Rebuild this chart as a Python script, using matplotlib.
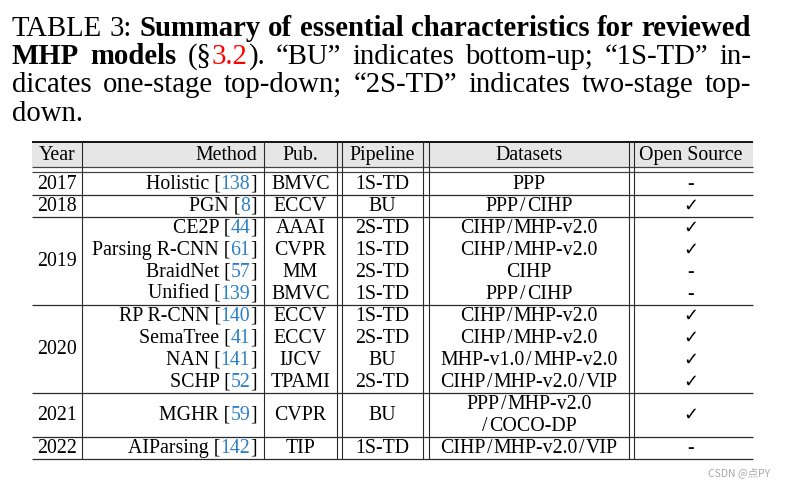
import matplotlib
matplotlib.use('Agg')
import matplotlib.pyplot as plt

# ---------------- data ----------------
caption_lines = [
    [[("TABLE", 'normal', 'k')], [("3:", 'normal', 'k')],
     [("Summary", 'bold', 'k')], [("of", 'bold', 'k')], [("essential", 'bold', 'k')],
     [("characteristics", 'bold', 'k')], [("for", 'bold', 'k')], [("reviewed", 'bold', 'k')]],
    [[("MHP", 'bold', 'k')], [("models", 'bold', 'k')],
     [("(§", 'normal', 'k'), ("3.2", 'normal', 'r'), (").", 'normal', 'k')],
     [("\u201cBU\u201d", 'normal', 'k')], [("indicates", 'normal', 'k')],
     [("bottom-up;", 'normal', 'k')], [("\u201c1S-TD\u201d", 'normal', 'k')], [("in-", 'normal', 'k')]],
    [[("dicates", 'normal', 'k')], [("one-stage", 'normal', 'k')], [("top-down;", 'normal', 'k')],
     [("\u201c2S-TD\u201d", 'normal', 'k')], [("indicates", 'normal', 'k')],
     [("two-stage", 'normal', 'k')], [("top-", 'normal', 'k')]],
    [[("down.", 'normal', 'k')]],
]

headers = ["Year", "Method", "Pub.", "Pipeline", "Datasets", "Open Source"]
years = ['2017', '2018', '2019', '2019', '2019', '2019', '2020', '2020', '2020', '2020', '2021', '2022']
methods = ['Holistic', 'PGN', 'CE2P', 'Parsing R-CNN', 'BraidNet', 'Unified',
           'RP R-CNN', 'SemaTree', 'NAN', 'SCHP', 'MGHR', 'AIParsing']
refs = ['138', '8', '44', '61', '57', '139', '140', '41', '141', '52', '59', '142']
pubs = ['BMVC', 'ECCV', 'AAAI', 'CVPR', 'MM', 'BMVC', 'ECCV', 'ECCV', 'IJCV', 'TPAMI', 'CVPR', 'TIP']
pipelines = ['1S-TD', 'BU', '2S-TD', '1S-TD', '2S-TD', '1S-TD',
             '1S-TD', '2S-TD', 'BU', '2S-TD', 'BU', '1S-TD']
datasets = ['PPP', 'PPP/CIHP', 'CIHP/MHP-v2.0', 'CIHP/MHP-v2.0', 'CIHP', 'PPP/CIHP',
            'CIHP/MHP-v2.0', 'CIHP/MHP-v2.0', 'MHP-v1.0/MHP-v2.0', 'CIHP/MHP-v2.0/VIP',
            'PPP/MHP-v2.0\n/COCO-DP', 'CIHP/MHP-v2.0/VIP']
open_source = [False, True, True, True, False, False, True, True, True, True, True, False]
watermark = "CSDN @点PY"

# ---------------- style / layout ----------------
W, H = 786, 486
SERIF = ['Liberation Serif', 'DejaVu Serif']
COL = {'k': 'black', 'r': '#ff0000', 'b': '#2b80c8'}
GRID = '#2a2a2a'

fig = plt.figure(figsize=(W / 100, H / 100), dpi=100)
ax = fig.add_axes([0, 0, 1, 1])
ax.set_xlim(0, W)
ax.set_ylim(H, 0)
ax.axis('off')
renderer = fig.canvas.get_renderer()


def twidth(s, size, weight='normal', family=SERIF):
    t = ax.text(0, 0, s, fontsize=size, fontweight=weight, family=family)
    w = t.get_window_extent(renderer).width
    t.remove()
    return w


def space_width(size, weight='normal'):
    return twidth("x x", size, weight) - twidth("xx", size, weight)


def word_width(word, size):
    return sum(twidth(s, size, wt) for s, wt, c in word)


def draw_word(x, y, word, size):
    for s, wt, c in word:
        ax.text(x, y, s, fontsize=size, fontweight=wt, color=COL[c], family=SERIF,
                ha='left', va='baseline')
        x += twidth(s, size, wt)
    return x


def draw_slashed(cx, y, s, size, gap=1.4):
    parts = s.split('/')
    ws = [twidth(p, size) if p else 0 for p in parts]
    sw = twidth('/', size)
    total = sum(ws) + (len(parts) - 1) * (sw + 2 * gap)
    x = cx - total / 2
    for k, p in enumerate(parts):
        if k > 0:
            x += gap
            ax.text(x, y, '/', fontsize=size, family=SERIF, ha='left', va='baseline')
            x += sw + gap
        if p:
            ax.text(x, y, p, fontsize=size, family=SERIF, ha='left', va='baseline')
        x += ws[k]


# ---------------- caption (justified) ----------------
cap_left, cap_right = 12, 751
cap_base = [35.5, 64, 92, 120.5]
s0 = 20.0
nat = sum(word_width(w, s0) for w in caption_lines[0]) + (len(caption_lines[0]) - 1) * space_width(s0)
cap_size = s0 * (cap_right - cap_left) / nat

for li, line in enumerate(caption_lines):
    widths = [word_width(w, cap_size) for w in line]
    if li < len(caption_lines) - 1 and len(line) > 1:
        gap = (cap_right - cap_left - sum(widths)) / (len(line) - 1)
    else:
        gap = space_width(cap_size)
    x = cap_left
    for w, ww in zip(line, widths):
        draw_word(x, cap_base[li], w, cap_size)
        x += ww + gap

# ---------------- table ----------------
T_SIZE = 14.3
x_left, x_right = 32, 753
y_top, y_head_bot = 142, 167
y_body = 173
row_h = 22
base_off = 4.9

vlines = [82, 264, 337, 342, 423, 429, 629, 634]
year_cx = 57
method_rx = 257
pub_cx = 300.5
pipe_cx = 382.5
data_cx = 529
open_cx = 691

# header background
ax.add_patch(plt.Rectangle((x_left, y_top), x_right - x_left, y_head_bot - y_top,
                           facecolor='#e6e6e6', edgecolor='none', zorder=0))

head_base = (y_top + y_head_bot) / 2 + 5.2
ax.text(year_cx, head_base, headers[0], fontsize=T_SIZE, family=SERIF, ha='center', va='baseline')
ax.text(method_rx, head_base, headers[1], fontsize=T_SIZE, family=SERIF, ha='right', va='baseline')
ax.text(pub_cx, head_base, headers[2], fontsize=T_SIZE, family=SERIF, ha='center', va='baseline')
ax.text(pipe_cx, head_base, headers[3], fontsize=T_SIZE, family=SERIF, ha='center', va='baseline')
ax.text(data_cx, head_base, headers[4], fontsize=T_SIZE, family=SERIF, ha='center', va='baseline')
ax.text(open_cx, head_base, headers[5], fontsize=T_SIZE, family=SERIF, ha='center', va='baseline')

# body rows
y = y_body
group_start = {}
group_end = {}
for i in range(len(methods)):
    nl = datasets[i].count('\n') + 1
    top = y
    bot = y + nl * row_h
    cy = (top + bot) / 2
    yb = cy + base_off
    group_start.setdefault(years[i], top)
    group_end[years[i]] = bot
    # method with blue citation, right aligned
    runs = [(methods[i] + " [", 'normal', 'k'), (refs[i], 'normal', 'b'), ("]", 'normal', 'k')]
    draw_word(method_rx - word_width(runs, T_SIZE), yb, runs, T_SIZE)
    ax.text(pub_cx, yb, pubs[i], fontsize=T_SIZE, family=SERIF, ha='center', va='baseline')
    ax.text(pipe_cx, yb, pipelines[i], fontsize=T_SIZE, family=SERIF, ha='center', va='baseline')
    for k, part in enumerate(datasets[i].split('\n')):
        draw_slashed(data_cx, top + (k + 0.5) * row_h + base_off, part, T_SIZE)
    if open_source[i]:
        ax.text(open_cx, yb, "\u2713", fontsize=13, family=['DejaVu Sans'],
                ha='center', va='baseline')
    else:
        ax.text(open_cx, yb, "-", fontsize=T_SIZE, family=SERIF, ha='center', va='baseline')
    y = bot

for yr in dict.fromkeys(years):
    cy = (group_start[yr] + group_end[yr]) / 2
    ax.text(year_cx, cy + base_off, yr, fontsize=T_SIZE, family=SERIF, ha='center', va='baseline')

# horizontal rules
ax.plot([x_left, x_right], [y_top, y_top], color='black', lw=1.3, solid_capstyle='butt')
for yy in [y_head_bot, y_body - 0.5]:
    ax.plot([x_left, x_right], [yy, yy], color='#444444', lw=0.9, solid_capstyle='butt')
for yr in dict.fromkeys(years):
    yy = group_end[yr]
    ax.plot([x_left, x_right], [yy, yy], color=GRID, lw=0.9, solid_capstyle='butt')

# vertical rules
y_bottom = y
for xx in vlines:
    ax.plot([xx, xx], [y_top, y_bottom], color=GRID, lw=0.8, solid_capstyle='butt')

# watermark
ax.text(770, 476, watermark, fontsize=7.5, color='#a8a8a8',
        family=['Noto Sans CJK SC', 'DejaVu Sans'], ha='right', va='baseline')

fig.savefig('out.png', dpi=100)
